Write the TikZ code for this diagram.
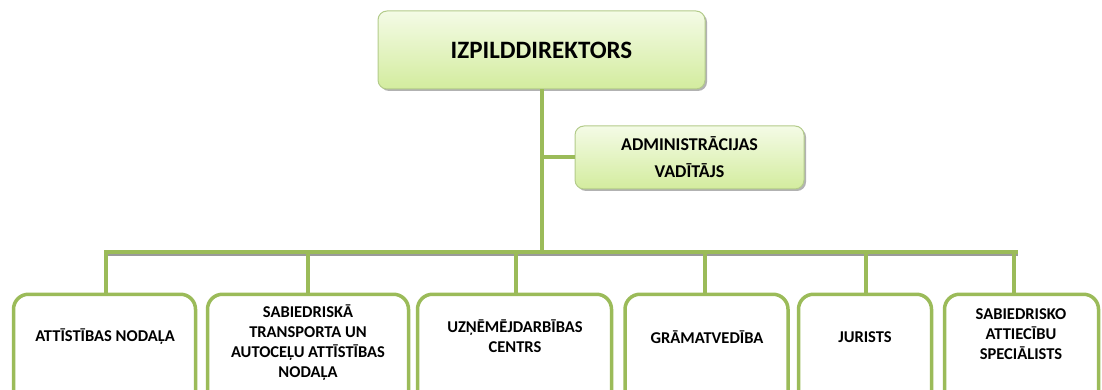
\documentclass[tikz,border=0pt]{standalone}
\usepackage{fontspec}
\setmainfont{Carlito}
\usetikzlibrary{shadows}
\definecolor{ogreen}{HTML}{9BBB59}
\definecolor{tboxline}{HTML}{B3CB8A}
\definecolor{tboxtop}{HTML}{F4FBE6}
\definecolor{tboxbot}{HTML}{D3EC9E}
\definecolor{barshadow}{HTML}{9A9A9A}
\tikzset{
  headbox/.style={draw=tboxline, line width=1pt, rounded corners=9pt,
    top color=tboxtop, bottom color=tboxbot, align=center,
    font=\bfseries, text=black,
    drop shadow={shadow xshift=2pt, shadow yshift=-2pt, fill=black, opacity=0.3}},
  unitbox/.style={draw=ogreen, line width=3.5pt, rounded corners=15pt, fill=white},
  unittext/.style={align=center, font=\fontsize{16.5}{20}\selectfont\bfseries, text=black},
  link/.style={draw=ogreen, line width=4pt},
}
\begin{document}
\begin{tikzpicture}[x=1pt, y=-1pt]
\useasboundingbox (0,0) rectangle (1102,390);
\clip (0,0) rectangle (1102,390);
% head boxes
\node[headbox, minimum width=327pt, minimum height=78pt,
      font=\fontsize{25}{30}\selectfont\bfseries] (dir) at (541.5,50) {IZPILDDIREKTORS};
\node[headbox, minimum width=229pt, minimum height=63pt,
      font=\fontsize{18}{27}\selectfont\bfseries] (adm) at (689.5,157.5) {ADMINISTRĀCIJAS\\VADĪTĀJS};
% bar coordinates
\coordinate (barL) at (104,252);
\coordinate (barR) at (1018,252);
\coordinate (d1) at (106,252);
\coordinate (d2) at (308,252);
\coordinate (d3) at (516,252);
\coordinate (d4) at (705,252);
\coordinate (d5) at (866,252);
\coordinate (d6) at (1014,252);
% unit boxes
\node[unitbox, minimum width=182pt, minimum height=112pt, anchor=north] (u1) at (104.5,292.5) {};
\node[unitbox, minimum width=201pt, minimum height=112pt, anchor=north] (u2) at (308,292.5) {};
\node[unitbox, minimum width=194pt, minimum height=112pt, anchor=north] (u3) at (514.5,292.5) {};
\node[unitbox, minimum width=163pt, minimum height=112pt, anchor=north] (u4) at (706.5,292.5) {};
\node[unitbox, minimum width=133pt, minimum height=112pt, anchor=north] (u5) at (865,292.5) {};
\node[unitbox, minimum width=154pt, minimum height=112pt, anchor=north] (u6) at (1021.5,292.5) {};
% connectors
\draw[link] (dir.south) -- (dir.south |- barL);
\draw[link] (adm.west -| dir.south) -- (adm.west);
\draw[barshadow, line width=4pt] ([yshift=-2pt]barL) -- ([yshift=-2pt]barR);
\draw[ogreen, line width=4pt] (barL) -- (barR);
\foreach \i in {1,...,6} {
  \draw[link] (d\i) -- (d\i |- u\i.north);
}
% unit texts
\node[unittext] (t1) at (105,337) {ATTĪSTĪBAS NODAĻA};
\node[unittext] (t2) at (308,343) {SABIEDRISKĀ\\TRANSPORTA UN\\AUTOCEĻU ATTĪSTĪBAS\\NODAĻA};
\node[unittext] (t3) at (515,336.5) {UZŅĒMĒJDARBĪBAS\\CENTRS};
\node[unittext] (t4) at (707,337) {GRĀMATVEDĪBA};
\node[unittext] (t5) at (865,337) {JURISTS};
\node[unittext] (t6) at (1021,334) {SABIEDRISKO\\ATTIECĪBU\\SPECIĀLISTS};
\end{tikzpicture}
\end{document}
